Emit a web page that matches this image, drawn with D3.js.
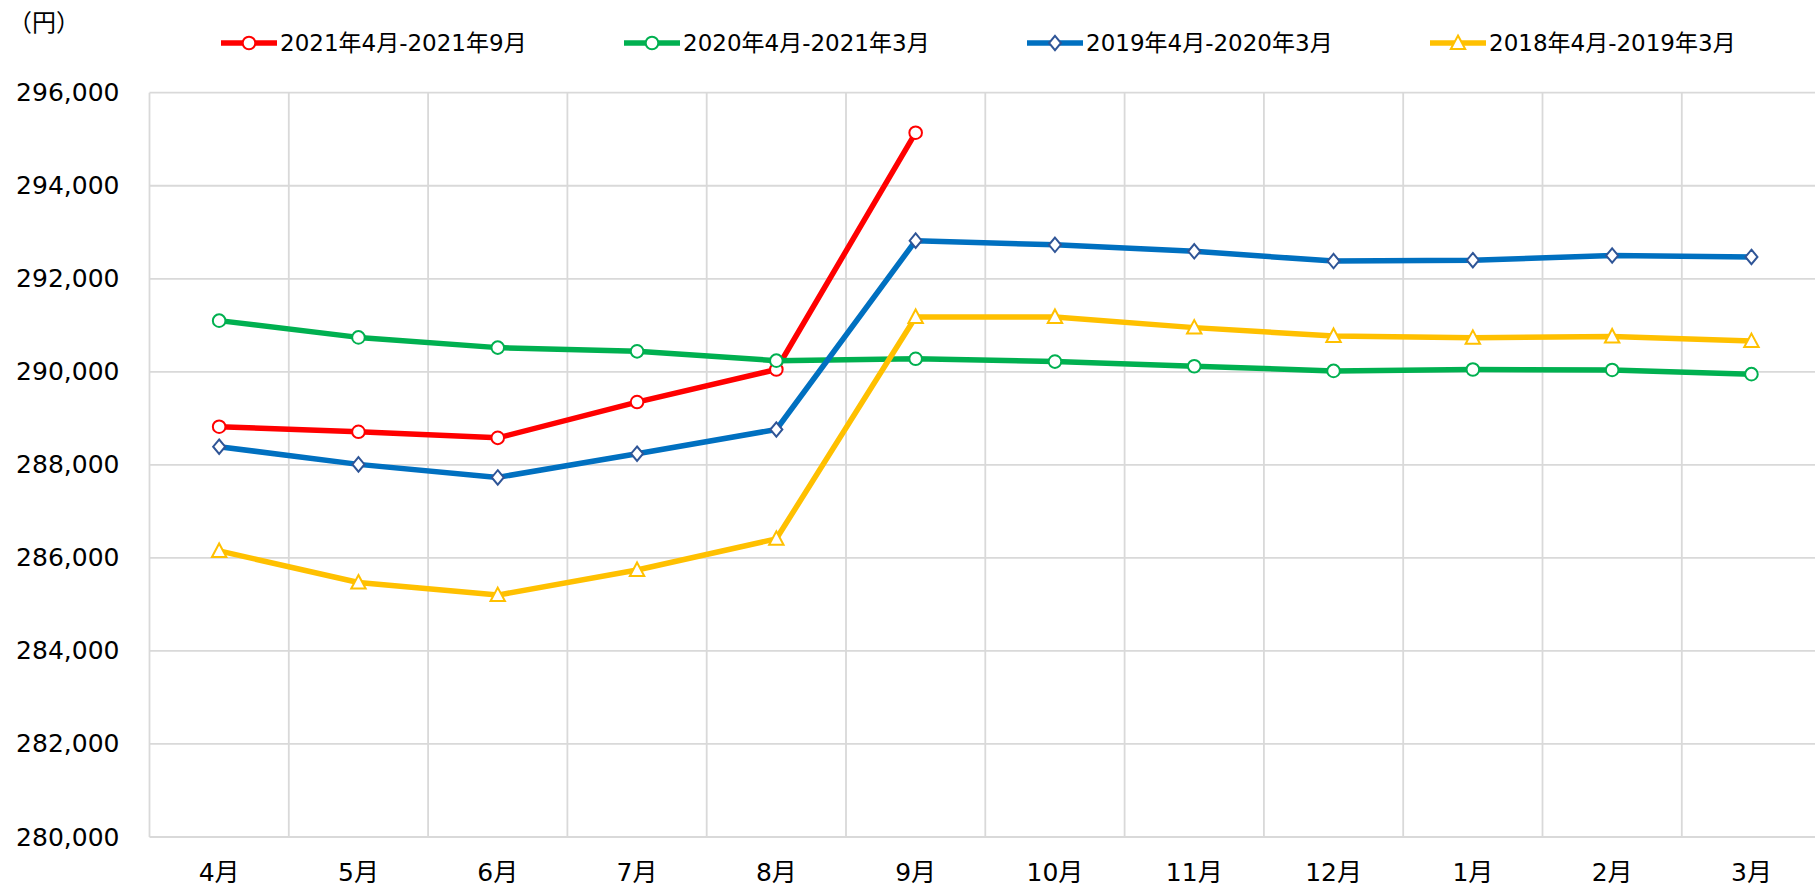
<!DOCTYPE html>
<html>
<head>
<meta charset="utf-8">
<script src="https://cdn.jsdelivr.net/npm/d3@7"></script>
<style>
  html, body { margin: 0; padding: 0; background: #fff; }
  svg { display: block; font-family: "DejaVu Sans", "Noto Sans CJK JP", sans-serif; }
</style>
</head>
<body>
<svg id="chart"></svg>
<script>
// months on the x axis (fiscal year, April to March)
const months = ["4月", "5月", "6月", "7月", "8月", "9月", "10月", "11月", "12月", "1月", "2月", "3月"];

// series values (円)
const fy2021 = [288820, 288710, 288580, 289350, 290050, 295140];
const fy2020 = [291100, 290740, 290520, 290440, 290240, 290280, 290220, 290120, 290020, 290050, 290040, 289950];
const fy2019 = [288390, 288010, 287730, 288240, 288760, 292820, 292730, 292590, 292380, 292400, 292500, 292470];
const fy2018 = [286150, 285470, 285200, 285740, 286410, 291180, 291180, 290950, 290770, 290730, 290760, 290660];

const seriesNames = ["2021年4月-2021年9月", "2020年4月-2021年3月", "2019年4月-2020年3月", "2018年4月-2019年3月"];
const yTicks = [280000, 282000, 284000, 286000, 288000, 290000, 292000, 294000, 296000];
const unitLabel = "（円）";

const series = [
  { name: seriesNames[0], values: fy2021, color: "#FF0000", marker: "circle", stroke: "#FF0000" },
  { name: seriesNames[1], values: fy2020, color: "#00B050", marker: "circle", stroke: "#00B050" },
  { name: seriesNames[2], values: fy2019, color: "#0070C0", marker: "diamond", stroke: "#2F5597" },
  { name: seriesNames[3], values: fy2018, color: "#FFC000", marker: "triangle", stroke: "#FFC000" },
];

const width = 1815, height = 896;
const margin = { top: 92.7, left: 149.5, bottom: 59 };
const band = 139.3;

const svg = d3.select("#chart").attr("width", width).attr("height", height);

const x = d3.scaleBand()
  .domain(months)
  .range([margin.left, margin.left + band * months.length]);

const y = d3.scaleLinear()
  .domain([280000, 296000])
  .range([height - margin.bottom, margin.top]);

const xc = (i) => x(months[i]) + x.bandwidth() / 2;

// gridlines
const grid = svg.append("g").attr("stroke", "#D9D9D9").attr("stroke-width", 1.8);
grid.selectAll("line.h")
  .data(yTicks)
  .join("line")
  .attr("class", "h")
  .attr("x1", margin.left)
  .attr("x2", x.range()[1])
  .attr("y1", (d) => y(d))
  .attr("y2", (d) => y(d));
grid.selectAll("line.v")
  .data(months.concat(["end"]))
  .join("line")
  .attr("class", "v")
  .attr("x1", (d, i) => (i < months.length ? x(d) : x.range()[1]))
  .attr("x2", (d, i) => (i < months.length ? x(d) : x.range()[1]))
  .attr("y1", y(296000))
  .attr("y2", y(280000));

// y axis labels
const yAxis = svg.append("g")
  .attr("transform", "translate(" + (margin.left - 30) + ",0)")
  .call(d3.axisLeft(y).tickValues(yTicks).tickSize(0).tickPadding(0).tickFormat(d3.format(",")));
yAxis.select(".domain").remove();
yAxis.selectAll("text")
  .attr("font-size", 25)
  .attr("font-family", "DejaVu Sans, Noto Sans CJK JP")
  .attr("fill", "#000");

// x axis labels
const xAxis = svg.append("g")
  .attr("transform", "translate(0," + (y(280000) + 26) + ")")
  .call(d3.axisBottom(x).tickSize(0).tickPadding(0));
xAxis.select(".domain").remove();
xAxis.selectAll("text")
  .attr("font-size", 25)
  .attr("font-family", "DejaVu Sans, Noto Sans CJK JP")
  .attr("fill", "#000");

// marker drawing
function drawMarker(g, type, stroke) {
  if (type === "circle") {
    g.append("circle").attr("r", 6.3).attr("fill", "#fff").attr("stroke", stroke).attr("stroke-width", 2);
  } else if (type === "diamond") {
    g.append("path").attr("d", "M0,-7.2L6,0L0,7.2L-6,0Z").attr("fill", "#fff").attr("stroke", stroke).attr("stroke-width", 2);
  } else {
    g.append("path").attr("d", "M0,-7.5L7.2,6L-7.2,6Z").attr("fill", "#fff").attr("stroke", stroke).attr("stroke-width", 2);
  }
}

const line = d3.line()
  .x((d, i) => xc(i))
  .y((d) => y(d));

// series lines + markers
series.forEach((s) => {
  const g = svg.append("g");
  g.append("path")
    .datum(s.values)
    .attr("fill", "none")
    .attr("stroke", s.color)
    .attr("stroke-width", 5.5)
    .attr("stroke-linejoin", "round")
    .attr("d", line);
  s.values.forEach((v, i) => {
    const m = g.append("g").attr("transform", "translate(" + xc(i) + "," + y(v) + ")");
    drawMarker(m, s.marker, s.stroke);
  });
});

// legend
const legend = svg.append("g").attr("transform", "translate(221,43)");
series.forEach((s, i) => {
  const item = legend.append("g").attr("transform", "translate(" + i * 403 + ",0)");
  item.append("line")
    .attr("x1", 0).attr("x2", 56)
    .attr("stroke", s.color)
    .attr("stroke-width", 5.5);
  drawMarker(item.append("g").attr("transform", "translate(28,0)"), s.marker, s.stroke);
  item.append("text")
    .attr("x", 59)
    .attr("dy", "0.36em")
    .attr("font-size", 23)
    .text(s.name);
});

// unit label
svg.append("text")
  .attr("x", 8)
  .attr("y", 22)
  .attr("dy", "0.36em")
  .attr("font-family", "Noto Sans CJK JP")
  .attr("font-size", 24)
  .text(unitLabel);
</script>
</body>
</html>
